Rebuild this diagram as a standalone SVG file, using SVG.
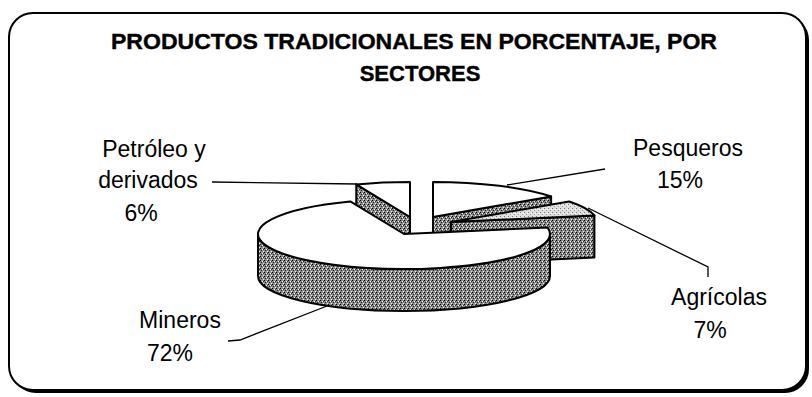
<svg xmlns="http://www.w3.org/2000/svg" width="812" height="397" viewBox="0 0 812 397">
<defs>
<pattern id="dk" width="4" height="4" patternUnits="userSpaceOnUse">
<rect width="4" height="4" fill="#8a8a8a"/>
<rect x="0" y="0" width="1" height="1" fill="#000"/>
<rect x="2" y="1" width="1" height="1" fill="#fff"/>
<rect x="1" y="2" width="1" height="1" fill="#222"/>
<rect x="3" y="3" width="1" height="1" fill="#eee"/>
<rect x="3" y="1" width="1" height="1" fill="#333"/>
</pattern>
<pattern id="lt" width="4" height="4" patternUnits="userSpaceOnUse">
<rect width="4" height="4" fill="#e0e0e0"/>
<rect x="0" y="0" width="1" height="1" fill="#777"/>
<rect x="2" y="2" width="1" height="1" fill="#999"/>
<rect x="3" y="1" width="1" height="1" fill="#fff"/>
</pattern>
<style>
.side{fill:url(#dk);stroke:#000;stroke-width:2;stroke-linejoin:round}
.top{fill:#fff;stroke:#000;stroke-width:2;stroke-linejoin:round}
.topl{fill:url(#lt);stroke:#000;stroke-width:2;stroke-linejoin:round}
.lead{fill:none;stroke:#000;stroke-width:1.3}
.lbl{font-family:"Liberation Sans",Arial,sans-serif;font-size:23px;fill:#000;text-anchor:middle}
.ttl{font-family:"Liberation Sans",Arial,sans-serif;font-size:22px;font-weight:bold;fill:#000;stroke:#000;stroke-width:0.4;text-anchor:middle}
</style>
</defs>
<rect width="812" height="397" fill="#fff"/>
<g id="frame">
<rect x="12" y="16" width="797" height="377" rx="24" fill="#000"/>
<rect x="9" y="13" width="797" height="377" rx="24" fill="#fff" stroke="#000" stroke-width="2"/>
</g>
<g id="title">
<text class="ttl" x="414" y="49" textLength="606" lengthAdjust="spacingAndGlyphs">PRODUCTOS TRADICIONALES EN PORCENTAJE, POR</text>
<text class="ttl" x="420" y="81">SECTORES</text>
</g>
<g id="petroleo">
<path class="side" d="M410,217 L356.25,184.46 L356.25,226.46 L410,259 Z"/>
<path class="top" d="M410,217 L410,182 A146,35 0 0 0 356.25,184.46 Z"/>
</g>
<g id="pesqueros">
<path class="side" d="M433,217 L551.12,196.43 L551.12,238.43 L433,259 Z"/>
<path class="top" d="M433,217 L551.12,196.43 A146,35 0 0 0 433,182 Z"/>
</g>
<g id="agricolas">
<path class="side" d="M451,222 L594.41,215.44 L594.41,257.44 L451,264 Z"/>
<path class="topl" d="M451,222 L594.41,215.44 A146,35 0 0 0 569.12,201.43 Z"/>
</g>
<g id="mineros">
<path class="side" d="M258,234 A146,35 0 0 0 550,234 L550,276 A146,35 0 0 1 258,276 Z"/>
<path class="top" d="M404,234 L350.25,201.46 A146,35 0 1 0 547.41,227.44 Z"/>
</g>
<g id="connectors">
<path class="lead" d="M212,182 L357,184"/>
<path class="lead" d="M507,185 L605,169"/>
<path class="lead" d="M588,208 L708,267 L708,277"/>
<path class="lead" d="M327,306 L240,340 L228,341"/>
</g>
<g id="labels">
<text class="lbl" x="154" y="157">Petróleo y</text>
<text class="lbl" x="148" y="188">derivados</text>
<text class="lbl" x="141" y="221">6%</text>
<text class="lbl" x="688" y="156">Pesqueros</text>
<text class="lbl" x="680" y="188">15%</text>
<text class="lbl" x="719" y="305">Agrícolas</text>
<text class="lbl" x="710" y="338">7%</text>
<text class="lbl" x="180" y="328">Mineros</text>
<text class="lbl" x="170" y="361">72%</text>
</g>
</svg>
